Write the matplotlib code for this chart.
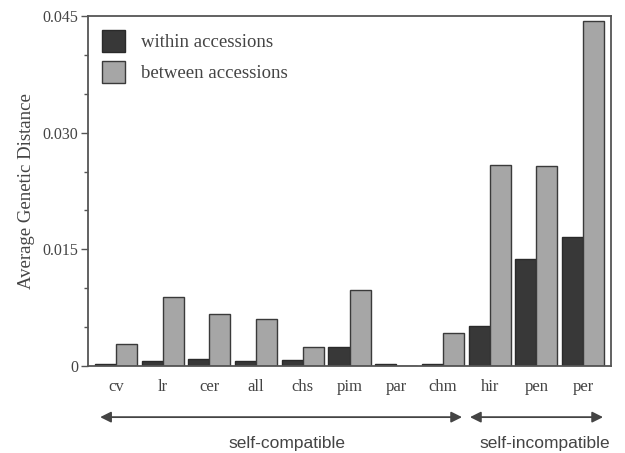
import matplotlib
matplotlib.use("Agg")
import matplotlib.pyplot as plt
import matplotlib.transforms as mtransforms
import numpy as np

categories = ["cv", "lr", "cer", "all", "chs", "pim", "par", "chm", "hir", "pen", "per"]
within = [0.0002, 0.0006, 0.0009, 0.0006, 0.0008, 0.0024, 0.0003, 0.0003, 0.0051, 0.0138, 0.0166]
between = [0.0028, 0.0089, 0.0067, 0.0060, 0.0024, 0.0098, 0.0, 0.0043, 0.0259, 0.0257, 0.0443]
yticks = [0, 0.015, 0.030, 0.045]
yticklabels = ["0", "0.015", "0.030", "0.045"]
groups = ["self-compatible", "self-incompatible"]
group_spans = [(-0.34, 7.41), (7.58, 10.43)]
group_label_x = [3.66, 9.19]

TXT = "#444444"
SERIF = ["Liberation Serif", "DejaVu Serif"]
SANS = ["Liberation Sans", "DejaVu Sans"]

fig = plt.figure(figsize=(6.25, 4.53), dpi=100)
ax = fig.add_axes([0.1408, 0.192, 0.8368, 0.7727])

x = np.arange(len(categories))
w = 0.45
ax.bar(x - w / 2, within, w, color="#383838", edgecolor="#2a2a2a", linewidth=1.0,
       label="within accessions")
ax.bar(x + w / 2, between, w, color="#a6a6a6", edgecolor="#3a3a3a", linewidth=1.0,
       label="between accessions")

ax.set_xlim(-0.6, 10.6)
ax.set_ylim(0, 0.045)
ax.set_xticks(x)
ax.set_xticklabels(categories, family=SERIF, fontsize=12, color=TXT)
ax.tick_params(axis="x", length=0, pad=9)
ax.set_yticks(yticks)
ax.set_yticklabels(yticklabels, family=SERIF, fontsize=11.5, color=TXT)
ax.set_yticks(np.arange(0, 0.0451, 0.005), minor=True)
ax.tick_params(axis="y", which="both", direction="out", color="#555555", width=1.0)
ax.tick_params(axis="y", which="major", length=5, pad=2)
ax.tick_params(axis="y", which="minor", length=3)
for s in ax.spines.values():
    s.set_color("#555555")
    s.set_linewidth(1.3)

ax.set_ylabel("Average Genetic Distance", family=SERIF, fontsize=13.5, color=TXT, labelpad=5)

ax.legend(loc="upper left", frameon=False, prop={"family": SERIF, "size": 13.5},
          handlelength=1.2, handleheight=1.4, handletextpad=0.9, labelspacing=0.5,
          borderaxespad=0.35, labelcolor=TXT)

# group arrows below the axis
trans = mtransforms.blended_transform_factory(ax.transData, ax.transAxes)
for name, (x0, x1), xl in zip(groups, group_spans, group_label_x):
    ax.annotate("", xy=(x0, -0.146), xytext=(x1, -0.146), xycoords=trans, textcoords=trans,
                arrowprops=dict(arrowstyle="<|-|>", color="#444444", lw=1.3,
                                mutation_scale=16, shrinkA=0, shrinkB=0),
                annotation_clip=False)
    ax.text(xl, -0.222, name, transform=trans, ha="center", va="center",
            family=SANS, fontsize=12.5, color=TXT)

fig.savefig("out.png", dpi=100)
